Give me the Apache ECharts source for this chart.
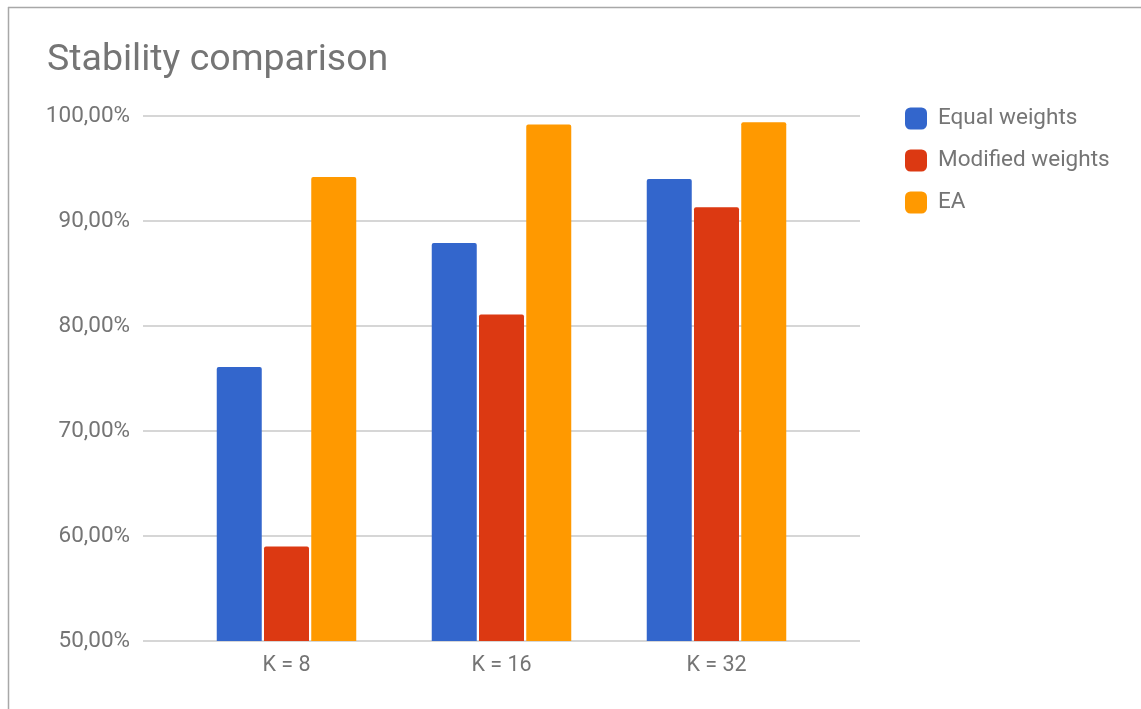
<!DOCTYPE html>
<html>
<head>
<meta charset="utf-8">
<script src="https://cdn.jsdelivr.net/npm/echarts@6/dist/echarts.min.js"></script>
<style>
  html, body { margin: 0; padding: 0; background: #fff; }
  #chart { width: 1141px; height: 709px; }
</style>
</head>
<body>
<div id="chart"></div>
<script>
// Stability per K for each weighting method (percent)
const categories = ['K = 8', 'K = 16', 'K = 32'];
const seriesNames = ['Equal weights', 'Modified weights', 'EA'];
const equalWeights = [76.1, 87.9, 94.0];
const modifiedWeights = [59.0, 81.1, 91.3];
const eaValues = [94.2, 99.2, 99.4];
const yTicks = [50, 60, 70, 80, 90, 100];
const colors = ['#3366cc', '#dc3912', '#ff9900'];

const fmtPct = v => v.toFixed(2).replace('.', ',') + '%';
const textColor = '#757575';
const fontFamily = 'Roboto, "Noto Sans", sans-serif';

const chart = echarts.init(document.getElementById('chart'), null, { renderer: 'canvas' });

const barStyle = { borderRadius: [2, 2, 0, 0] };

chart.setOption({
  animation: false,
  backgroundColor: '#fff',
  textStyle: { fontFamily },
  title: {
    text: 'Stability comparison',
    left: 42,
    top: 37,
    textStyle: { color: textColor, fontSize: 37.5, fontWeight: 'normal', fontFamily }
  },
  legend: {
    orient: 'vertical',
    left: 900,
    top: 102,
    itemWidth: 22,
    itemHeight: 22,
    itemGap: 19,
    icon: 'roundRect',
    data: seriesNames,
    textStyle: { color: textColor, fontSize: 22.5, fontFamily, padding: [0, 0, 0, 6] }
  },
  grid: [
    // gridline frame with the value labels
    { left: 143, right: 281, top: 116, bottom: 68 },
    // category band where the bars sit
    { left: 179, right: 317, top: 116, bottom: 68 }
  ],
  xAxis: [
    { gridIndex: 0, type: 'value', show: false, min: 0, max: 1 },
    {
      gridIndex: 1,
      type: 'category',
      data: categories,
      axisLine: { show: false },
      axisTick: { show: false },
      axisLabel: { color: textColor, fontSize: 21.5, margin: 14, fontFamily }
    }
  ],
  yAxis: [
    {
      gridIndex: 0,
      type: 'value',
      min: yTicks[0],
      max: yTicks[yTicks.length - 1],
      interval: 10,
      axisLine: { show: false },
      axisTick: { show: false },
      axisLabel: { color: textColor, fontSize: 22.5, margin: 13, formatter: fmtPct, fontFamily },
      splitLine: { lineStyle: { color: '#d6d6d6', width: 2 } }
    },
    {
      gridIndex: 1,
      type: 'value',
      min: yTicks[0],
      max: yTicks[yTicks.length - 1],
      show: false,
      splitLine: { show: false }
    }
  ],
  series: [
    { name: seriesNames[0], type: 'bar', xAxisIndex: 1, yAxisIndex: 1, data: equalWeights,
      barWidth: 45, barGap: '5%', itemStyle: Object.assign({ color: colors[0] }, barStyle) },
    { name: seriesNames[1], type: 'bar', xAxisIndex: 1, yAxisIndex: 1, data: modifiedWeights,
      barWidth: 45, barGap: '5%', itemStyle: Object.assign({ color: colors[1] }, barStyle) },
    { name: seriesNames[2], type: 'bar', xAxisIndex: 1, yAxisIndex: 1, data: eaValues,
      barWidth: 45, barGap: '5%', itemStyle: Object.assign({ color: colors[2] }, barStyle) }
  ],
  graphic: [
    // chart frame edges (left and top)
    { type: 'line', shape: { x1: 8.5, y1: 7, x2: 8.5, y2: 709 }, style: { stroke: '#a8a8a8', lineWidth: 1.5 } },
    { type: 'line', shape: { x1: 8, y1: 7.5, x2: 1141, y2: 7.5 }, style: { stroke: '#a8a8a8', lineWidth: 1.5 } }
  ]
});
</script>
</body>
</html>
